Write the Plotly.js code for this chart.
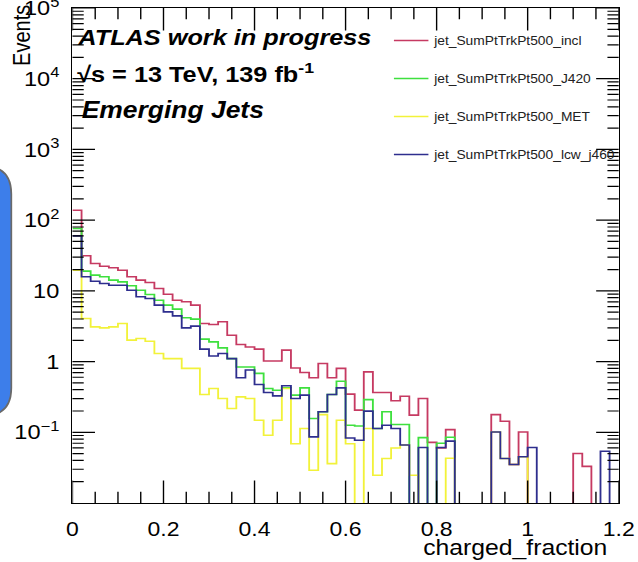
<!DOCTYPE html>
<html>
<head>
<meta charset="utf-8">
<script src="https://cdn.plot.ly/plotly-3.0.1.min.js"></script>
<style>
html,body{margin:0;padding:0;background:#fff;overflow:hidden;width:638px;height:562px;}
#wrap{position:relative;width:638px;height:562px;overflow:hidden;}
#plot{position:absolute;left:0;top:0;transform-origin:0 0;}
</style>
</head>
<body>
<div id="wrap"><div id="plot"></div></div>
<script>
// ---- data ----
const binWidth = 0.02;
const nBins = 60;
const seriesNames = ["jet_SumPtTrkPt500_incl", "jet_SumPtTrkPt500_J420", "jet_SumPtTrkPt500_MET", "jet_SumPtTrkPt500_lcw_j460"];
const seriesColors = ["#c63a62", "#3ee03e", "#f2f23a", "#2e2e8e"];
const incl = [138, 31.3, 24.4, 22.3, 21.2, 19.6, 15.8, 14.2, 13.1, 10.8,
  8.97, 7.38, 7.0, 6.28, 3.45, 3.34, 3.65, 2.36, 1.74, 1.61,
  1.50, 1.02, 1.02, 1.45, 0.81, 0.70, 0.59, 0.94, 0.59, 0.80,
  0.346, 0.206, 0.716, 0.365, 0.365, 0.279, 0.324, 0.175, 0.30, 0.072,
  0.060, 0.109, 0, 0, 0, 0, 0.178, 0.143, 0.035, 0.101,
  0, 0, 0, 0, 0, 0.050, 0.033, 0, 0, 0];
const j420 = [76.3, 19.0, 16.7, 15.8, 14.2, 13.4, 11.8, 10.2, 8.89, 7.38,
  6.28, 5.51, 4.16, 3.98, 2.08, 1.90, 1.56, 1.10, 0.84, 0.84,
  0.68, 0.416, 0.394, 0.425, 0.335, 0.425, 0.157, 0.195, 0.342, 0.528,
  0.126, 0.123, 0.29, 0.113, 0.195, 0.129, 0.129, 0, 0.084, 0,
  0.070, 0.085, 0, 0, 0, 0, 0, 0, 0, 0,
  0, 0, 0, 0, 0, 0, 0, 0, 0, 0];
const met = [19.6, 4.06, 3.10, 3.0, 3.10, 3.45, 2.01, 2.12, 1.94, 1.30,
  1.10, 1.10, 0.80, 0.80, 0.342, 0.416, 0.30, 0.217, 0.317, 0.30,
  0.148, 0.091, 0.148, 0.416, 0.069, 0.113, 0.029, 0.178, 0.036, 0.148,
  0.069, 0, 0.113, 0.0247, 0.0426, 0.060, 0.066, 0.0247, 0, 0,
  0, 0.043, 0, 0, 0, 0, 0.101, 0.0425, 0.035, 0.045,
  0, 0, 0, 0, 0, 0, 0, 0, 0, 0];
const lcw = [60, 15.8, 13.7, 12.7, 12.0, 12.0, 10.2, 8.24, 7.80, 6.28,
  5.05, 4.43, 3.0, 3.17, 1.50, 1.20, 1.30, 1.10, 0.59, 0.76,
  0.474, 0.365, 0.327, 0.454, 0.30, 0.335, 0.086, 0.195, 0.342, 0.425,
  0.083, 0.077, 0.199, 0.113, 0.126, 0.113, 0.066, 0, 0.061, 0,
  0.061, 0.075, 0, 0, 0, 0, 0.101, 0.0425, 0.035, 0.045,
  0.061, 0, 0, 0, 0, 0, 0, 0, 0.054, 0];
const seriesValues = [incl, j420, met, lcw];
const xTickVals = [0, 0.2, 0.4, 0.6, 0.8, 1.0, 1.2];
const xTickLabels = ["0", "0.2", "0.4", "0.6", "0.8", "1", "1.2"];
const yTickVals = [0.1, 1, 10, 100, 1000, 10000, 100000];
const yTickLabels = ["10<sup>\u22121</sup>", "1", "10", "10<sup>2</sup>", "10<sup>3</sup>", "10<sup>4</sup>", "10<sup>5</sup>"];

// ---- geometry (reference pixels; the page is stretched horizontally by S) ----
const S = 1.15;
const W = 638 / S, H = 562;
const PL = 73, PR = 618, PT = 8, PB = 503;
const PW = (PR - PL) / S, PH = PB - PT;
const px = x => (x / S - PL / S) / PW;
const py = y => (PB - y) / PH;

const X_MIN = 0, X_MAX = 1.2, Y_MIN = 0.01, Y_MAX = 100000;

const edges = [];
for (let k = 0; k <= nBins; k++) edges.push(+(k * binWidth).toFixed(4));
const FLOOR = 1e-4;

// tick positions (major and minor)
const yMinor = [];
for (let d = -2; d < 5; d++) for (let m = 2; m <= 9; m++) yMinor.push(m * Math.pow(10, d));
const xMinor = [];
for (let k = 0; k <= 24; k++) if (k % 4 !== 0) xMinor.push(+(k * 0.05).toFixed(3));

const traces = seriesValues.map((vals, i) => {
  const y = vals.map(v => v > 0 ? v : FLOOR);
  y.push(y[y.length - 1]);
  return {
    type: 'scatter', mode: 'lines', x: edges, y: y,
    name: seriesNames[i], legendgroup: 'g' + i,
    line: {shape: 'hv', color: seriesColors[i], width: 1.6},
    hoverinfo: 'skip'
  };
});

// ROOT-style inside ticks on all four sides: half-clipped line markers on the frame
function tickTrace(xs, ys, symbol, size) {
  return {
    type: 'scatter', mode: 'markers', x: xs, y: ys, cliponaxis: true,
    showlegend: false, hoverinfo: 'skip',
    marker: {symbol: symbol, size: size, color: '#000', line: {color: '#000', width: 1.2}}
  };
}
traces.push(tickTrace(xTickVals, xTickVals.map(() => Y_MIN), 'line-ns', 32));
traces.push(tickTrace(xTickVals, xTickVals.map(() => Y_MAX), 'line-ns', 32));
traces.push(tickTrace(xMinor, xMinor.map(() => Y_MIN), 'line-ns', 16));
traces.push(tickTrace(xMinor, xMinor.map(() => Y_MAX), 'line-ns', 16));
traces.push(tickTrace(yTickVals.map(() => X_MIN), yTickVals, 'line-ew', 28));
traces.push(tickTrace(yTickVals.map(() => X_MAX), yTickVals, 'line-ew', 28));
traces.push(tickTrace(yMinor.map(() => X_MIN), yMinor, 'line-ew', 14));
traces.push(tickTrace(yMinor.map(() => X_MAX), yMinor, 'line-ew', 14));

const FONT = 'Liberation Sans, Arial, Helvetica, sans-serif';

function roundRect(x0, y0, x1, y1, r) {
  const rx = px(x0 + r) - px(x0), ry = py(y0) - py(y0 + r);
  const X0 = px(x0), X1 = px(x1), Y0 = py(y0), Y1 = py(y1);
  return `M${X0 + rx},${Y0} L${X1 - rx},${Y0} Q${X1},${Y0} ${X1},${Y0 - ry} ` +
         `L${X1},${Y1 + ry} Q${X1},${Y1} ${X1 - rx},${Y1} L${X0 + rx},${Y1} ` +
         `Q${X0},${Y1} ${X0},${Y1 + ry} L${X0},${Y0 - ry} Q${X0},${Y0} ${X0 + rx},${Y0} Z`;
}

const layout = {
  width: W, height: H,
  margin: {l: PL / S, r: (638 - PR) / S, t: PT, b: H - PB, pad: 0},
  paper_bgcolor: '#fff', plot_bgcolor: '#fff',
  font: {family: FONT, color: '#000'},
  showlegend: true,
  legend: {
    x: px(388), y: py(26), xanchor: 'left', yanchor: 'top',
    bgcolor: 'rgba(255,255,255,0)', borderwidth: 0,
    font: {family: FONT, size: 12, color: '#222'},
    traceorder: 'grouped', tracegroupgap: 19
  },
  xaxis: {
    range: [X_MIN, X_MAX],
    tickmode: 'array', tickvals: xTickVals, ticktext: xTickLabels,
    ticks: '', showline: true, linecolor: '#000', linewidth: 1.3, mirror: true,
    showgrid: false, zeroline: false,
    tickfont: {family: FONT, size: 20, color: '#000'},
    ticklabelstandoff: 8, ticklabeloverflow: 'allow'
  },
  yaxis: {
    type: 'log', range: [Math.log10(Y_MIN), Math.log10(Y_MAX)],
    tickmode: 'array', tickvals: yTickVals, ticktext: yTickLabels,
    ticks: '', showline: true, linecolor: '#000', linewidth: 1.3, mirror: true,
    showgrid: false, zeroline: false,
    tickfont: {family: FONT, size: 20.5, color: '#000'},
    ticklabelstandoff: 6, ticklabeloverflow: 'allow'
  },
  annotations: [
    {xref: 'paper', yref: 'paper', x: px(23), y: py(3), xanchor: 'center', yanchor: 'top',
     text: 'Events', textangle: -90, showarrow: false, font: {family: FONT, size: 20, color: '#000'}},
    {xref: 'paper', yref: 'paper', x: px(609), y: py(548), xanchor: 'right', yanchor: 'middle',
     text: 'charged_fraction', showarrow: false, font: {family: FONT, size: 21.5, color: '#000'}},
    {xref: 'paper', yref: 'paper', x: px(75), y: py(38), xanchor: 'left', yanchor: 'middle',
     text: '<b><i>ATLAS work in progress</i></b>', showarrow: false, font: {family: FONT, size: 22, color: '#000'}},
    {xref: 'paper', yref: 'paper', x: px(75), y: py(73), xanchor: 'left', yanchor: 'middle',
     text: '<b>√s = 13 TeV, 139 fb<sup>-1</sup></b>', showarrow: false, font: {family: FONT, size: 22, color: '#000'}},
    {xref: 'paper', yref: 'paper', x: px(80), y: py(110), xanchor: 'left', yanchor: 'middle',
     text: '<b><i>Emerging Jets</i></b>', showarrow: false, font: {family: FONT, size: 23, color: '#000'}}
  ],
  shapes: [
    {type: 'path', xref: 'paper', yref: 'paper', layer: 'above',
     path: roundRect(-60, 166, 12, 416, 28),
     fillcolor: '#3d7eea', line: {color: '#6a6a6a', width: 1.5}}
  ]
};

Plotly.newPlot('plot', traces, layout, {staticPlot: true, displayModeBar: false}).then(() => {
  document.getElementById('plot').style.transform = 'scale(' + S + ',1)';
});
</script>
</body>
</html>
